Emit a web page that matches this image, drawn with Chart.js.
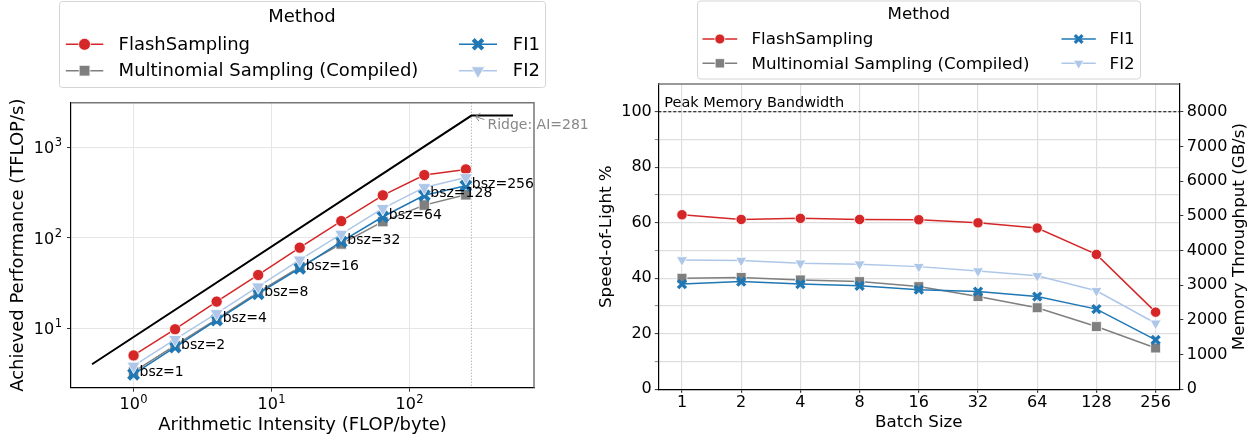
<!DOCTYPE html>
<html>
<head>
<meta charset="utf-8">
<script src="https://cdn.jsdelivr.net/npm/chart.js@4.4.1/dist/chart.umd.min.js"></script>
<style>
  body { margin: 0; background: #fff; }
  #wrap { position: relative; width: 1256px; height: 440px; overflow: hidden; }
  canvas { position: absolute; top: 0; }
  #roofline { left: 0; }
  #sol { left: 594px; }
</style>
</head>
<body>
<div id="wrap">
  <canvas id="roofline" width="594" height="440"></canvas>
  <canvas id="sol" width="662" height="440"></canvas>
</div>
<script>
// Data
const methods = ["FlashSampling", "Multinomial Sampling (Compiled)", "FI1", "FI2"];
const batchSizes = [1, 2, 4, 8, 16, 32, 64, 128, 256];
const batchLabels = ["1", "2", "4", "8", "16", "32", "64", "128", "256"];

// left: achieved TFLOP/s (x = arithmetic intensity = batch size)
const flashTflops = [5.0, 9.75, 19.7, 38.8, 77.8, 153, 295, 494, 571];
const multinomialTflops = [3.3, 6.45, 12.6, 25.0, 47.5, 85.5, 151, 230, 299];
const fi1Tflops = [3.1, 6.2, 12.3, 24.1, 46.0, 90.6, 171, 295, 377];
const fi2Tflops = [3.83, 7.55, 14.6, 28.8, 57.0, 110, 212, 361, 465];
const roofAI = [0.5, 281, 562];
const roofTflops = [4, 2248, 2248];
const ridgeAI = 281;
const logTicksX = [1, 10, 100];
const logTicksY = [10, 100, 1000];

// right: speed-of-light %
const flashSol = [62.9, 61.2, 61.6, 61.2, 61.1, 60.0, 58.1, 48.6, 27.8];
const multinomialSol = [40.0, 40.3, 39.4, 38.8, 37.0, 33.4, 29.4, 22.6, 14.9];
const fi1Sol = [37.9, 38.8, 37.9, 37.3, 35.9, 35.2, 33.4, 28.9, 17.8];
const fi2Sol = [46.6, 46.4, 45.4, 45.1, 44.2, 42.6, 40.9, 35.5, 23.8];
const peakSol = 100;
const solTicks = [0, 10, 20, 30, 40, 50, 60, 70, 80, 90, 100];
const bandwidthTicks = [0, 1000, 2000, 3000, 4000, 5000, 6000, 7000, 8000];

const colors = ["#d62728", "#7f7f7f", "#1f77b4", "#aec7e8"];
const markers = ["circle", "rect", "x", "tri"];
const FONT = "DejaVu Sans";

Chart.defaults.font.family = FONT;
Chart.defaults.color = "#000";

// chart.js point options per marker kind
function pointOpts(kind, color, r) {
  if (kind === "x") {
    return { pointStyle: "crossRot", pointRadius: r, pointBorderColor: color, pointBorderWidth: r * 0.6, pointBackgroundColor: color };
  }
  return {
    pointStyle: kind === "tri" ? "triangle" : kind,
    pointRotation: kind === "tri" ? 180 : 0,
    pointRadius: r,
    pointBackgroundColor: color,
    pointBorderColor: "#fff",
    pointBorderWidth: 0.8,
  };
}

// marker for legend entries
function drawMarker(ctx, kind, x, y, r, color) {
  ctx.save();
  ctx.fillStyle = color;
  ctx.strokeStyle = "#fff";
  ctx.lineWidth = 0.8;
  ctx.beginPath();
  if (kind === "circle") {
    ctx.arc(x, y, r, 0, Math.PI * 2);
  } else if (kind === "rect") {
    const s = r * Math.SQRT1_2;
    ctx.rect(x - s, y - s, 2 * s, 2 * s);
  } else if (kind === "tri") {
    for (let k = 0; k < 3; k++) {
      const a = Math.PI + k * (2 * Math.PI / 3);
      const px = x + Math.sin(a) * r, py = y - Math.cos(a) * r;
      k ? ctx.lineTo(px, py) : ctx.moveTo(px, py);
    }
    ctx.closePath();
  }
  if (kind === "x") {
    const s = r * Math.SQRT1_2;
    ctx.strokeStyle = color;
    ctx.lineWidth = r * 0.6;
    ctx.moveTo(x - s, y - s); ctx.lineTo(x + s, y + s);
    ctx.moveTo(x + s, y - s); ctx.lineTo(x - s, y + s);
    ctx.stroke();
  } else {
    ctx.fill();
    ctx.stroke();
  }
  ctx.restore();
}

function drawLegend(ctx, L) {
  ctx.save();
  const { x0, y0, x1, y1 } = L.box;
  ctx.beginPath();
  ctx.roundRect(x0, y0, x1 - x0, y1 - y0, 3);
  ctx.fillStyle = "rgba(255,255,255,0.8)";
  ctx.fill();
  ctx.strokeStyle = "#d5d5d5";
  ctx.lineWidth = 1;
  ctx.stroke();
  ctx.font = `${L.font}px ${FONT}`;
  ctx.fillStyle = "#000";
  ctx.textBaseline = "middle";
  ctx.textAlign = "center";
  ctx.fillText("Method", L.titleX, L.titleY);
  ctx.textAlign = "left";
  methods.forEach((m, i) => {
    const c = L.cols[i < 2 ? 0 : 1];
    const y = L.rows[i % 2];
    ctx.strokeStyle = colors[i];
    ctx.lineWidth = 1.5;
    ctx.beginPath();
    ctx.moveTo(c.l0, y);
    ctx.lineTo(c.l1, y);
    ctx.stroke();
    drawMarker(ctx, markers[i], (c.l0 + c.l1) / 2, y, L.sizes[i], colors[i]);
    ctx.fillStyle = "#000";
    ctx.fillText(m, c.tx, y + 1);
  });
  ctx.restore();
}

// "10" with a raised exponent, like matplotlib's log tick labels
function drawPow(ctx, value, x, yMid, align) {
  const exp = String(Math.round(Math.log10(value)));
  ctx.font = `16px ${FONT}`;
  const wBase = ctx.measureText("10").width;
  ctx.font = `11.5px ${FONT}`;
  const wExp = ctx.measureText(exp).width;
  const total = wBase + wExp + 0.5;
  const x0 = align === "right" ? x - total : x - total / 2;
  const base = yMid + 5.8;
  ctx.textBaseline = "alphabetic";
  ctx.textAlign = "left";
  ctx.font = `16px ${FONT}`;
  ctx.fillText("10", x0, base);
  ctx.font = `11.5px ${FONT}`;
  ctx.fillText(exp, x0 + wBase + 0.5, base - 6.8);
}

// ---------- Left: roofline ----------
const roofSeries = [flashTflops, multinomialTflops, fi1Tflops, fi2Tflops];
const roofSizes = [5.6, 7.4, 7.0, 7.6];
const leftSets = [3, 2, 1, 0].map((i) => ({
  label: methods[i],
  data: batchSizes.map((b, k) => ({ x: b, y: roofSeries[i][k] })),
  borderColor: colors[i],
  borderWidth: 1.5,
  ...pointOpts(markers[i], colors[i], roofSizes[i]),
}));
leftSets.push({
  label: "roof",
  data: roofAI.map((a, k) => ({ x: a, y: roofTflops[k] })),
  borderColor: "#000",
  borderWidth: 2,
  pointRadius: 0,
});

const rooflineExtras = {
  id: "rooflineExtras",
  beforeDatasetsDraw(chart) {
    const { ctx, chartArea, scales } = chart;
    const rx = scales.x.getPixelForValue(ridgeAI);
    ctx.save();
    ctx.strokeStyle = "#999";
    ctx.lineWidth = 1;
    ctx.setLineDash([1, 2]);
    ctx.beginPath();
    ctx.moveTo(rx, chartArea.top);
    ctx.lineTo(rx, chartArea.bottom);
    ctx.stroke();
    ctx.restore();
  },
  afterDraw(chart) {
    const { ctx, chartArea, scales } = chart;
    ctx.save();
    // top / right spines
    ctx.strokeStyle = "#777";
    ctx.lineWidth = 1.5;
    ctx.beginPath();
    ctx.moveTo(chartArea.left, chartArea.top);
    ctx.lineTo(chartArea.right, chartArea.top);
    ctx.lineTo(chartArea.right, chartArea.bottom);
    ctx.stroke();

    // log tick labels
    ctx.fillStyle = "#000";
    logTicksX.forEach((v) => drawPow(ctx, v, scales.x.getPixelForValue(v), 403.5, "center"));
    logTicksY.forEach((v) => drawPow(ctx, v, 62, scales.y.getPixelForValue(v), "right"));

    // bsz labels next to FI1 points
    ctx.font = `14px ${FONT}`;
    ctx.textBaseline = "middle";
    batchSizes.forEach((b, k) => {
      const px = scales.x.getPixelForValue(b);
      const py = scales.y.getPixelForValue(fi1Tflops[k]);
      ctx.fillText("bsz=" + b, px + 6, py - 1.5);
    });

    // ridge annotation
    const rx = scales.x.getPixelForValue(ridgeAI);
    const ry = scales.y.getPixelForValue(roofTflops[1]);
    ctx.strokeStyle = "#888";
    ctx.lineWidth = 1;
    ctx.beginPath();
    ctx.moveTo(rx + 4, ry + 1);
    ctx.lineTo(rx + 13, ry + 4);
    ctx.moveTo(rx + 4, ry + 1);
    ctx.lineTo(rx + 9, ry - 2.5);
    ctx.moveTo(rx + 4, ry + 1);
    ctx.lineTo(rx + 7.5, ry + 5.5);
    ctx.stroke();
    ctx.fillStyle = "#888";
    ctx.fillText("Ridge: AI=" + ridgeAI, rx + 16, ry + 10);
    ctx.restore();

    drawLegend(ctx, {
      box: { x0: 59.5, y0: 1.5, x1: 545.5, y1: 87.5 },
      font: 18,
      titleX: 302, titleY: 17,
      rows: [44.3, 70.7],
      cols: [{ l0: 65.8, l1: 103.3, tx: 118.6 }, { l0: 459, l1: 497, tx: 512.8 }],
      sizes: [6, 7.6, 6.8, 7.8],
    });
  },
};

new Chart(document.getElementById("roofline"), {
  type: "line",
  data: { datasets: leftSets },
  options: {
    responsive: false,
    animation: false,
    layout: { padding: { top: 102.7, right: 60, left: 0, bottom: 0 } },
    plugins: { legend: { display: false }, tooltip: { enabled: false } },
    scales: {
      x: {
        type: "logarithmic",
        min: 0.352,
        max: 798,
        afterBuildTicks: (s) => { s.ticks = logTicksX.map((v) => ({ value: v })); },
        afterFit: (s) => { s.height = 52.3; },
        ticks: { font: { size: 16 }, padding: 1.7, maxRotation: 0, autoSkip: false, callback: () => "" },
        grid: { color: "#e6e6e6", tickColor: "#333", tickLength: 4 },
        border: { color: "#000", width: 1.2 },
        title: { display: true, text: "Arithmetic Intensity (FLOP/byte)", font: { size: 18 }, padding: { top: 0, bottom: 4.2 } },
      },
      y: {
        type: "logarithmic",
        min: 2.2,
        max: 3120,
        afterBuildTicks: (s) => { s.ticks = logTicksY.map((v) => ({ value: v })); },
        afterFit: (s) => { s.width = 71; },
        ticks: { font: { size: 16 }, padding: 5, autoSkip: false, callback: () => "" },
        grid: { color: "#e6e6e6", tickColor: "#333", tickLength: 4 },
        border: { color: "#000", width: 1.2 },
        title: { display: true, text: "Achieved Performance (TFLOP/s)", font: { size: 18 }, padding: { top: 7.5, bottom: 0 } },
      },
    },
  },
  plugins: [rooflineExtras],
});

// ---------- Right: speed-of-light ----------
const solSeries = [flashSol, multinomialSol, fi1Sol, fi2Sol];
const solSizes = [5.2, 7.0, 5.6, 6.4];
const rightSets = [3, 2, 1, 0].map((i) => ({
  label: methods[i],
  data: batchLabels.map((b, k) => ({ x: k, y: solSeries[i][k] })),
  borderColor: colors[i],
  borderWidth: 1.5,
  yAxisID: "y",
  ...pointOpts(markers[i], colors[i], solSizes[i]),
}));

const solExtras = {
  id: "solExtras",
  afterDraw(chart) {
    const { ctx, chartArea, scales } = chart;
    ctx.save();
    // peak bandwidth line
    const py = scales.y.getPixelForValue(peakSol);
    ctx.strokeStyle = "#000";
    ctx.lineWidth = 1;
    ctx.setLineDash([3, 2]);
    ctx.beginPath();
    ctx.moveTo(chartArea.left, py);
    ctx.lineTo(chartArea.right, py);
    ctx.stroke();
    ctx.setLineDash([]);
    ctx.font = `14.5px ${FONT}`;
    ctx.fillStyle = "#000";
    ctx.textBaseline = "middle";
    ctx.fillText("Peak Memory Bandwidth", chartArea.left + 6, py - 8.4);

    // top spine
    ctx.strokeStyle = "#777";
    ctx.lineWidth = 1.5;
    ctx.beginPath();
    ctx.moveTo(chartArea.left, chartArea.top);
    ctx.lineTo(chartArea.right, chartArea.top);
    ctx.stroke();

    // right axis title, reading bottom to top
    ctx.translate(646, (chartArea.top + chartArea.bottom) / 2);
    ctx.rotate(-Math.PI / 2);
    ctx.font = `16.7px ${FONT}`;
    ctx.textAlign = "center";
    ctx.fillText("Memory Throughput (GB/s)", 0, 0);
    ctx.restore();

    drawLegend(ctx, {
      box: { x0: 103.5, y0: 1, x1: 546.5, y1: 79 },
      font: 16.7,
      titleX: 324.8, titleY: 15,
      rows: [39, 63.3],
      cols: [{ l0: 108.5, l1: 143.2, tx: 157.5 }, { l0: 467.5, l1: 501.8, tx: 515.6 }],
      sizes: [5, 6.6, 5.4, 6],
    });
  },
};

new Chart(document.getElementById("sol"), {
  type: "line",
  data: { datasets: rightSets },
  options: {
    responsive: false,
    animation: false,
    layout: { padding: { top: 84, right: 0, left: 0, bottom: 0 } },
    plugins: { legend: { display: false }, tooltip: { enabled: false } },
    scales: {
      x: {
        type: "linear",
        min: -0.4,
        max: 8.4,
        afterBuildTicks: (s) => { s.ticks = batchLabels.map((b, k) => ({ value: k })); },
        afterFit: (s) => { s.height = 50.7; },
        ticks: {
          font: { size: 16 },
          padding: 0.9,
          maxRotation: 0,
          autoSkip: false,
          callback: (v) => batchLabels[v],
        },
        grid: { color: "#dedede", lineWidth: 1.2, tickColor: "#333", tickLength: 3.5 },
        border: { color: "#000", width: 1.2 },
        title: { display: true, text: "Batch Size", font: { size: 16.7 }, padding: { top: 0, bottom: 7.3 } },
      },
      y: {
        type: "linear",
        position: "left",
        min: 0,
        max: 110,
        afterBuildTicks: (s) => { s.ticks = solTicks.map((v) => ({ value: v })); },
        afterFit: (s) => { s.width = 64.3; },
        ticks: {
          font: { size: 16 },
          padding: 3,
          autoSkip: false,
          callback: (v) => (v % 20 === 0 ? v : ""),
        },
        grid: {
          color: "#dedede",
          lineWidth: 1.2,
          tickColor: "#333",
          tickLength: 3.5,
          tickWidth: (c) => (c.tick && c.tick.value % 20 ? 0.6 : 1),
        },
        border: { color: "#000", width: 1.2 },
        title: { display: true, text: "Speed-of-Light %", font: { size: 16.7 }, padding: { top: 2.7, bottom: 0 } },
      },
      y2: {
        type: "linear",
        position: "right",
        min: 0,
        max: 8800,
        afterBuildTicks: (s) => { s.ticks = bandwidthTicks.map((v) => ({ value: v })); },
        afterFit: (s) => { s.width = 76.7; },
        ticks: { font: { size: 16 }, padding: 3.4, autoSkip: false, callback: (v) => String(v) },
        grid: { drawOnChartArea: false, tickColor: "#333", tickLength: 4 },
        border: { color: "#000", width: 1.2 },
      },
    },
  },
  plugins: [solExtras],
});
</script>
</body>
</html>
